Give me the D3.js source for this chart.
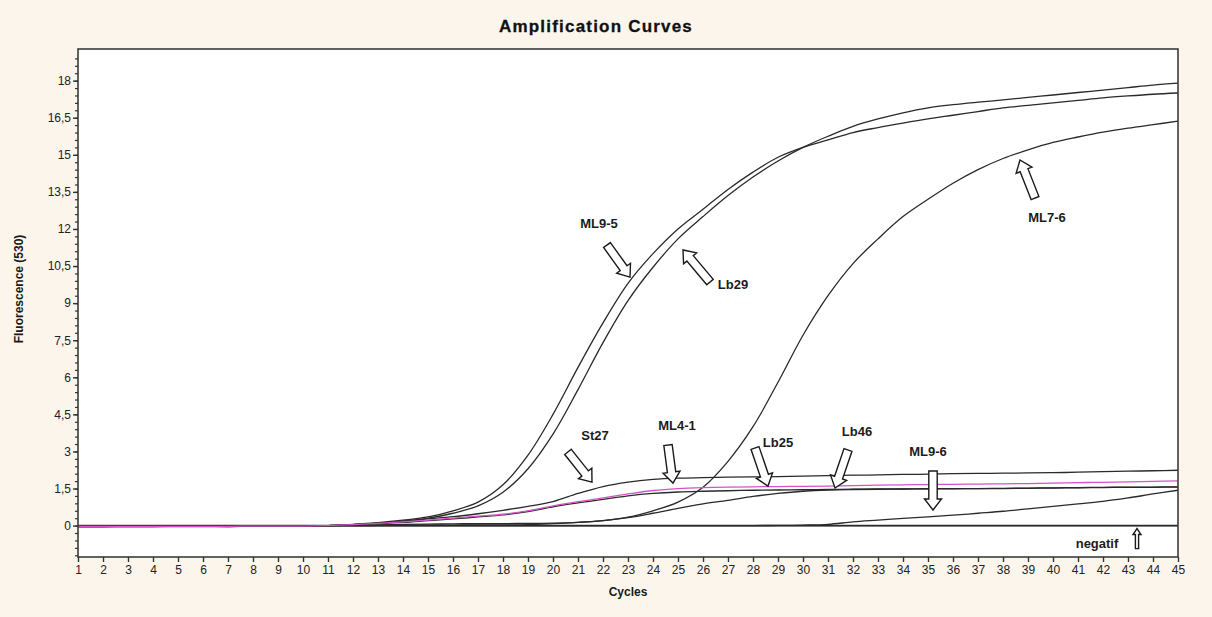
<!DOCTYPE html>
<html>
<head>
<meta charset="utf-8">
<script src="https://cdn.jsdelivr.net/npm/d3@7"></script>
<style>
body{margin:0;background:#fcf5ec;}
svg{display:block;font-family:'Liberation Sans',Arial,sans-serif;}
</style>
</head>
<body>
<svg id="chart" width="1212" height="617"></svg>
<script>
'use strict';

//Cycle numbers on the x axis
var cycles = d3.range(1, 46);

//Fluorescence (530) per cycle
var ml95 = [-0.05,-0.05,-0.04,-0.04,-0.04,-0.04,-0.04,-0.03,-0.03,-0.03,0.0,0.05,0.12,0.22,0.35,0.6,0.95,1.65,2.85,4.5,6.4,8.2,9.8,11.0,12.0,12.8,13.6,14.3,14.9,15.3,15.6,15.9,16.1,16.28,16.45,16.6,16.75,16.9,17.0,17.1,17.2,17.3,17.38,17.45,17.5];
var lb29 = [-0.04,-0.04,-0.04,-0.04,-0.03,-0.03,-0.04,-0.03,-0.03,-0.03,0.0,0.04,0.1,0.18,0.3,0.5,0.8,1.35,2.3,3.7,5.5,7.4,9.1,10.45,11.6,12.5,13.35,14.1,14.75,15.3,15.75,16.15,16.45,16.7,16.9,17.03,17.13,17.22,17.32,17.42,17.52,17.62,17.72,17.82,17.9];
var ml76 = [-0.03,-0.03,-0.03,-0.03,-0.03,-0.03,-0.03,-0.02,-0.02,-0.02,0.0,0.01,0.03,0.05,0.06,0.07,0.08,0.08,0.09,0.1,0.13,0.2,0.34,0.6,0.95,1.55,2.6,4.0,5.8,7.7,9.3,10.6,11.6,12.5,13.2,13.85,14.4,14.85,15.2,15.5,15.72,15.92,16.08,16.22,16.36];
var st27 = [-0.03,-0.03,-0.03,-0.03,-0.03,-0.03,-0.03,-0.02,-0.02,-0.02,0.0,0.04,0.1,0.18,0.27,0.36,0.48,0.62,0.78,0.97,1.3,1.58,1.76,1.87,1.92,1.94,1.96,1.97,1.98,2.0,2.02,2.04,2.05,2.07,2.08,2.1,2.11,2.12,2.13,2.14,2.16,2.18,2.2,2.22,2.24];
var ml41 = [-0.03,-0.03,-0.03,-0.03,-0.03,-0.03,-0.03,-0.02,-0.02,-0.02,0.0,0.04,0.09,0.15,0.22,0.3,0.38,0.46,0.6,0.8,0.97,1.12,1.28,1.42,1.5,1.54,1.56,1.57,1.58,1.59,1.6,1.62,1.64,1.65,1.66,1.67,1.68,1.69,1.7,1.72,1.74,1.75,1.77,1.79,1.81];
var lb46 = [-0.03,-0.03,-0.03,-0.03,-0.03,-0.03,-0.03,-0.02,-0.02,-0.02,0.0,0.04,0.08,0.13,0.2,0.27,0.35,0.43,0.57,0.76,0.92,1.06,1.2,1.3,1.36,1.39,1.41,1.43,1.44,1.45,1.46,1.47,1.48,1.48,1.49,1.5,1.5,1.51,1.52,1.53,1.54,1.55,1.56,1.56,1.57];
var lb25 = [-0.03,-0.03,-0.03,-0.03,-0.03,-0.03,-0.03,-0.02,-0.02,-0.02,0.0,0.0,0.01,0.01,0.02,0.02,0.03,0.03,0.04,0.08,0.13,0.2,0.32,0.5,0.7,0.88,1.02,1.18,1.3,1.39,1.44,1.46,1.47,1.48,1.49,1.49,1.5,1.5,1.51,1.52,1.53,1.54,1.55,1.55,1.56];
var ml96 = [-0.03,-0.03,-0.03,-0.03,-0.03,-0.03,-0.03,-0.02,-0.02,-0.02,0.0,0.0,0.0,0.0,0.0,0.0,0.0,0.0,0.0,0.0,0.0,0.0,0.0,0.0,0.0,0.0,0.0,0.0,0.01,0.02,0.05,0.15,0.22,0.29,0.35,0.42,0.5,0.58,0.68,0.78,0.88,0.98,1.12,1.28,1.43];
var negatif = [-0.03,-0.03,-0.03,-0.03,-0.03,-0.03,-0.03,-0.02,-0.02,-0.02,0.0,0.0,0.0,0.0,0.0,0.0,0.0,0.0,0.0,0.0,0.0,0.0,0.0,0.0,0.0,0.0,0.0,0.0,0.0,0.0,0.0,0.0,0.0,0.0,0.0,0.0,0.0,0.0,0.0,0.0,0.0,0.0,0.0,0.0,0.0];

var seriesNames = ['negatif','ML9-6','Lb25','Lb46','St27','ML7-6','Lb29','ML9-5','ML4-1'];
var seriesValues = [negatif, ml96, lb25, lb46, st27, ml76, lb29, ml95, ml41];

//Tick values
var yTicks = [0,1.5,3,4.5,6,7.5,9,10.5,12,13.5,15,16.5,18];
var yMinor = d3.range(-1.2, 19.2, 0.3);
var xTicks = cycles;

//Labels with their arrows: text spot, arrow tail, arrow tip (cycle, fluorescence)
var noteLabels = ['ML9-5','Lb29','St27','ML4-1','Lb25','Lb46','ML9-6','ML7-6','negatif'];
var noteText = [[21.84,12.24],[27.2,9.77],[21.68,3.66],[24.96,4.07],[29.0,3.38],[32.16,3.79],[35.0,2.98],[39.76,12.48],[41.76,-0.71]];
var noteTail = [[22.16,11.35],[26.28,9.85],[20.6,2.98],[24.6,3.26],[28.08,3.14],[31.8,3.06],[35.2,2.21],[39.28,13.25],[43.36,-0.93]];
var noteTip  = [[23.08,10.05],[25.2,11.15],[21.56,1.76],[24.8,1.72],[28.6,1.6],[31.28,1.52],[35.2,0.63],[38.68,14.79],[43.36,-0.12]];

var svg = d3.select('#chart');
var W = 1212, H = 617;
var box = {left:78, top:49, right:1178, bottom:557};

var x = d3.scaleLinear().domain([1,45]).range([box.left, box.right]);
var y = d3.scaleLinear().domain([-1.27,19.28]).range([box.bottom, box.top]);

//Background
svg.append('rect').attr('width',W).attr('height',H).attr('fill','#fcf5ec');
svg.append('rect')
	.attr('x',box.left).attr('y',box.top)
	.attr('width',box.right-box.left).attr('height',box.bottom-box.top)
	.attr('fill','#ffffff');

//Title
svg.append('text')
	.attr('x',596).attr('y',32)
	.attr('text-anchor','middle')
	.attr('font-size','17px').attr('font-weight','bold')
	.attr('letter-spacing','1.2px')
	.attr('fill','#111')
	.attr('stroke','#111').attr('stroke-width',0.3)
	.text('Amplification Curves');

//Clip for curves
svg.append('clipPath').attr('id','plotClip')
	.append('rect')
	.attr('x',box.left).attr('y',box.top)
	.attr('width',box.right-box.left).attr('height',box.bottom-box.top);

var plot = svg.append('g').attr('clip-path','url(#plotClip)');

//Zero line
plot.append('line')
	.attr('x1',box.left).attr('x2',box.right)
	.attr('y1',y(0)).attr('y2',y(0))
	.attr('stroke','#3a3a3a').attr('stroke-width',1.6);

var line = d3.line()
	.x(function(d,i){ return x(cycles[i]); })
	.y(function(d){ return y(d); })
	.curve(d3.curveCatmullRom.alpha(0.5));

//Curves
for(var i=0; i<seriesNames.length; i++){
	plot.append('path')
		.datum(seriesValues[i])
		.attr('class','curve')
		.attr('d',line)
		.attr('fill','none')
		.attr('stroke',seriesNames[i]==='ML4-1' ? '#d454c6' : '#2a2a2a')
		.attr('stroke-width',1.3);
}

//Block arrow outline from tail to tip
var blockArrow = function(x0,y0,x1,y1,w,h,hl){
	var dx = x1-x0, dy = y1-y0;
	var L = Math.sqrt(dx*dx+dy*dy);
	var ux = dx/L, uy = dy/L, px = -uy, py = ux;
	var pts = [[0,-w],[L-hl,-w],[L-hl,-h],[L,0],[L-hl,h],[L-hl,w],[0,w]];
	return pts.map(function(p){ return [x0+ux*p[0]+px*p[1], y0+uy*p[0]+py*p[1]]; });
};

var notes = svg.append('g');
for(var j=0; j<noteLabels.length; j++){
	var small = noteLabels[j]==='negatif';
	var pts = blockArrow(x(noteTail[j][0]), y(noteTail[j][1]), x(noteTip[j][0]), y(noteTip[j][1]),
		small ? 1.6 : 4.2, small ? 4 : 8.5, small ? 6 : 11);
	notes.append('polygon')
		.attr('points',pts.map(function(p){ return p.join(','); }).join(' '))
		.attr('fill','#ffffff')
		.attr('stroke','#1a1a1a')
		.attr('stroke-width',1.4)
		.attr('stroke-linejoin','miter');
	notes.append('text')
		.attr('x',x(noteText[j][0])).attr('y',y(noteText[j][1]))
		.attr('dy','0.35em')
		.attr('text-anchor','middle')
		.attr('font-size','13px').attr('font-weight','bold')
		.attr('fill','#1c1c1c')
		.text(noteLabels[j]);
}

//Frame
svg.append('rect')
	.attr('x',box.left).attr('y',box.top)
	.attr('width',box.right-box.left).attr('height',box.bottom-box.top)
	.attr('fill','none').attr('stroke','#3c3c3c').attr('stroke-width',1.6);

//Y axis
var yAxis = d3.axisLeft(y).tickValues(yTicks).tickSize(5).tickPadding(2)
	.tickFormat(function(d){ return String(d).replace('.',','); });
var gy = svg.append('g').attr('transform','translate('+box.left+',0)').call(yAxis);
gy.select('.domain').remove();
gy.selectAll('.tick line').attr('stroke','#333').attr('stroke-width',1.4);
gy.selectAll('.tick text').attr('font-size','12px').attr('fill','#222').attr('font-family','Liberation Sans, Arial, sans-serif');

var gyMinor = svg.append('g').attr('transform','translate('+box.left+',0)')
	.call(d3.axisLeft(y).tickValues(yMinor).tickSize(3).tickFormat(''));
gyMinor.select('.domain').remove();
gyMinor.selectAll('.tick line').attr('stroke','#333').attr('stroke-width',1.2);

//X axis
var xAxis = d3.axisBottom(x).tickValues(xTicks).tickSize(5).tickPadding(3).tickFormat(d3.format('d'));
var gx = svg.append('g').attr('transform','translate(0,'+box.bottom+')').call(xAxis);
gx.select('.domain').remove();
gx.selectAll('.tick line').attr('stroke','#333').attr('stroke-width',1.4);
gx.selectAll('.tick text').attr('font-size','12px').attr('fill','#222').attr('font-family','Liberation Sans, Arial, sans-serif');

//Axis titles
svg.append('text')
	.attr('x',(box.left+box.right)/2).attr('y',596)
	.attr('text-anchor','middle')
	.attr('font-size','12px').attr('font-weight','bold').attr('fill','#1a1a1a')
	.text('Cycles');

svg.append('text')
	.attr('transform','translate(23,289) rotate(-90)')
	.attr('text-anchor','middle')
	.attr('font-size','12px').attr('font-weight','bold').attr('fill','#1a1a1a')
	.text('Fluorescence (530)');
</script>
</body>
</html>
